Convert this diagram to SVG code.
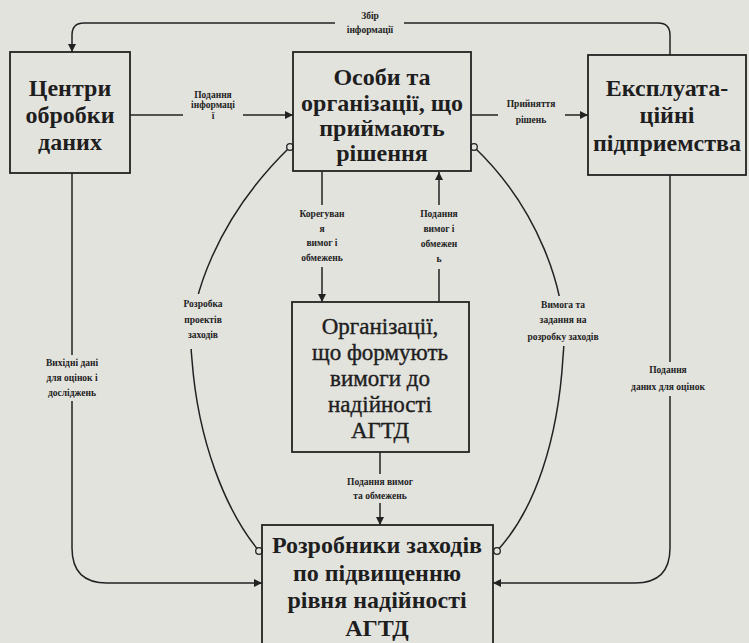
<svg xmlns="http://www.w3.org/2000/svg" width="749" height="643" viewBox="0 0 749 643">
<defs>
<marker id="arr" viewBox="0 0 10 10" refX="10" refY="5" markerWidth="8" markerHeight="8" markerUnits="userSpaceOnUse" orient="auto"><path d="M0,0 L10,5 L0,10 z" fill="#222"/></marker>
<style>
.box{fill:none;stroke:#222;stroke-width:1.8}
.ln{fill:none;stroke:#222;stroke-width:1.5}
.bg{fill:#e3e3de;stroke:none}
.nt{font-family:"Liberation Serif","DejaVu Serif",serif;font-weight:bold;font-size:24px;fill:#1e1e1e;text-anchor:middle;dominant-baseline:central}
.nt4{font-family:"Liberation Serif","DejaVu Serif",serif;font-size:23px;fill:#1e1e1e;stroke:#1e1e1e;stroke-width:0.4;text-anchor:middle;dominant-baseline:central}
.lb{font-family:"Liberation Serif","DejaVu Serif",serif;font-weight:bold;font-size:9.5px;fill:#222;text-anchor:middle;dominant-baseline:central}
.dot{fill:#e3e3de;stroke:#222;stroke-width:1.3}
</style>
</defs>
<rect width="749" height="643" fill="#e3e3de"/>
<g id="connectors">
<path class="ln" d="M670,55 V35 Q670,23 658,23 H84 Q72,23 72,35 V52" marker-end="url(#arr)"/>
<path class="ln" d="M130,115 H293" marker-end="url(#arr)"/>
<path class="ln" d="M471,115 H588" marker-end="url(#arr)"/>
<path class="ln" d="M322,171 V302" marker-end="url(#arr)"/>
<path class="ln" d="M439,302 V172" marker-end="url(#arr)"/>
<path class="ln" d="M380,452 V525" marker-end="url(#arr)"/>
<path class="ln" d="M72,173 V548 Q72,583 107,583 H262" marker-end="url(#arr)"/>
<path class="ln" d="M670,175 V548 Q670,583 635,583 H493" marker-end="url(#arr)"/>
<path class="ln" d="M290,147 C220,215 185,300 192,360 C198,440 225,510 259,551"/>
<path class="ln" d="M474,147 C535,205 570,290 563,357 C558,440 535,510 497,551"/>
<circle class="dot" cx="290" cy="147" r="3.3"/>
<circle class="dot" cx="474" cy="147" r="3.3"/>
<circle class="dot" cx="259" cy="551" r="3.3"/>
<circle class="dot" cx="497" cy="551" r="3.3"/>
<rect class="bg" x="335" y="8" width="69" height="30"/>
<text class="lb" x="370" y="16">Збір</text>
<text class="lb" x="370" y="30">інформації</text>
<rect class="bg" x="183" y="88" width="60" height="34"/>
<text class="lb" x="213" y="95">Подання</text>
<text class="lb" x="213" y="105">інформаці</text>
<text class="lb" x="213" y="116">ї</text>
<rect class="bg" x="498" y="96" width="67" height="32"/>
<text class="lb" x="531" y="104">Прийняття</text>
<text class="lb" x="531" y="120">рішень</text>
<rect class="bg" x="292" y="205" width="60" height="62"/>
<text class="lb" x="322" y="214">Корегуван</text>
<text class="lb" x="322" y="229">я</text>
<text class="lb" x="322" y="243">вимог і</text>
<text class="lb" x="322" y="258">обмежень</text>
<rect class="bg" x="409" y="205" width="60" height="64"/>
<text class="lb" x="439" y="214">Подання</text>
<text class="lb" x="439" y="229">вимог і</text>
<text class="lb" x="439" y="244">обмежен</text>
<text class="lb" x="439" y="259">ь</text>
<rect class="bg" x="170" y="294" width="68" height="55"/>
<text class="lb" x="203" y="304">Розробка</text>
<text class="lb" x="203" y="320">проектів</text>
<text class="lb" x="203" y="335">заходів</text>
<rect class="bg" x="520" y="296" width="88" height="50"/>
<text class="lb" x="563" y="305">Вимога та</text>
<text class="lb" x="563" y="320">задання на</text>
<text class="lb" x="563" y="337">розробку заходів</text>
<rect class="bg" x="30" y="355" width="84" height="46"/>
<text class="lb" x="72" y="363">Вихідні дані</text>
<text class="lb" x="72" y="378">для оцінок і</text>
<text class="lb" x="72" y="393">досліджень</text>
<rect class="bg" x="625" y="362" width="88" height="34"/>
<text class="lb" x="668" y="370">Подання</text>
<text class="lb" x="668" y="387">даних для оцінок</text>
<rect class="bg" x="340" y="474" width="80" height="29"/>
<text class="lb" x="380" y="482">Подання вимог</text>
<text class="lb" x="380" y="496">та обмежень</text>
</g>
<g id="n1">
<rect class="box" x="10" y="52" width="120" height="121"/>
<text class="nt" x="70" y="88">Центри</text>
<text class="nt" x="70" y="115">обробки</text>
<text class="nt" x="70" y="142">даних</text>
</g>
<g id="n2">
<rect class="box" x="293" y="52" width="178" height="119"/>
<text class="nt" x="382" y="77">Особи та</text>
<text class="nt" x="382" y="103">організації, що</text>
<text class="nt" x="382" y="128">приймають</text>
<text class="nt" x="382" y="153">рішення</text>
</g>
<g id="n3">
<rect class="box" x="588" y="55" width="158" height="120"/>
<text class="nt" x="667" y="88">Експлуата-</text>
<text class="nt" x="667" y="115">ційні</text>
<text class="nt" x="667" y="143">підприемства</text>
</g>
<g id="n4">
<rect class="box" x="292" y="302" width="177" height="150"/>
<text class="nt4" x="380" y="326">Організації,</text>
<text class="nt4" x="380" y="352">що формують</text>
<text class="nt4" x="380" y="378">вимоги до</text>
<text class="nt4" x="380" y="404">надійності</text>
<text class="nt4" x="380" y="430">АГТД</text>
</g>
<g id="n5">
<rect class="box" x="262" y="525" width="231" height="140"/>
<text class="nt" x="377" y="545">Розробники заходів</text>
<text class="nt" x="377" y="573">по підвищенню</text>
<text class="nt" x="377" y="600">рівня надійності</text>
<text class="nt" x="377" y="628">АГТД</text>
</g>
</svg>
